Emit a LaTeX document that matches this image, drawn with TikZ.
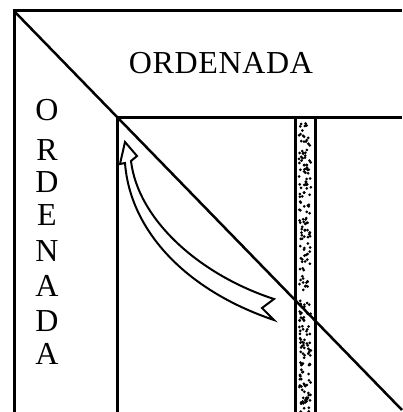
\documentclass[tikz,border=0pt]{standalone}
\usepackage{fontspec}
\setmainfont{Liberation Serif}
\begin{document}
\begin{tikzpicture}[x=1pt,y=-1pt,
  frame/.style={line width=3pt},
  diag/.style={line width=2.5pt},
  arrowline/.style={line width=2pt, line join=miter},
  lbl/.style={font=\fontsize{32}{32}\selectfont, inner sep=0pt},
  dot/.style={fill=black, draw=none}]
\useasboundingbox (0,0) rectangle (402,412);
\coordinate (O) at (14,11);
\coordinate (TR) at (402,11);
\coordinate (BL) at (14,412);
\coordinate (I) at (117,117);
\coordinate (ITR) at (402,117);
\coordinate (IBL) at (117,412);
\coordinate (DE) at (402,410);
% stippled strip
\pgfmathsetseed{7}
\foreach \k in {1,...,230}{
  \pgfmathsetmacro{\dx}{299+12*rnd}
  \pgfmathsetmacro{\dy}{121+291*rnd}
  \fill[dot] (\dx,\dy) circle (1.5pt);
}
\draw[frame] (295,117) -- (295,412);
\draw[frame] (315,117) -- (315,412);
% frames
\draw[frame] (BL) -- (O) -- (TR);
\draw[frame] (IBL) -- (I) -- (ITR);
\draw[diag] (O) -- (DE);
% texts
\node[lbl] (top) at (221,63) {\addfontfeature{LetterSpace=2}ORDENADA};
\foreach \c/\y [count=\i] in {O/110,R/150,D/182,E/215,N/251,A/286,D/321,A/354}{
  \node[lbl] (v\i) at (47,\y) {\c};
}
% curved arrow
\coordinate (tt) at (274,299);
\coordinate (tn) at (262,308);
\coordinate (tb) at (274,320);
\coordinate (hu) at (131,161);
\coordinate (hr) at (137,156);
\coordinate (tip) at (125,142);
\coordinate (hl) at (120,164);
\coordinate (hd) at (125,163);
\draw[arrowline, fill=white] (tt) .. controls (200,275) and (138,220) .. (hu)
  -- (hr) -- (tip) -- (hl) -- (hd)
  .. controls (130,230) and (185,290) .. (tb) -- (tn) -- cycle;
\end{tikzpicture}
\end{document}
